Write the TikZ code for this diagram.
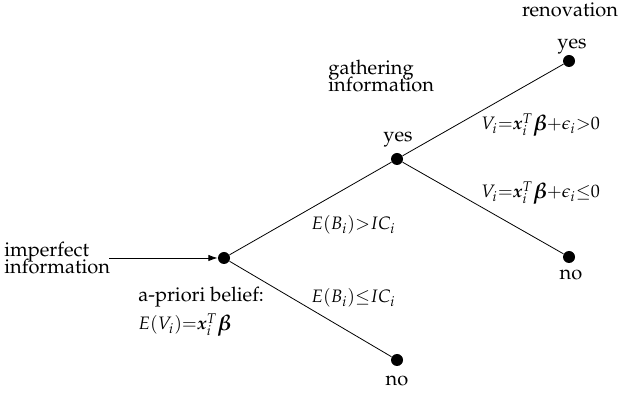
\documentclass[tikz,border=0pt]{standalone}
\usepackage[T1]{fontenc}
\usepackage{mathpazo}
\usepackage{amsmath,bm}
\usetikzlibrary{arrows.meta}

\newcommand{\bbeta}{\mathord{\raisebox{-0.15ex}{\scalebox{1.2}{$\bm{\beta}$}}}}

\tikzset{
	dot/.style={circle, fill=black, inner sep=0pt, minimum size=6pt},
	lbl/.style={inner sep=0pt, align=left, font=\fontsize{10}{8}\selectfont},
	cond/.style={inner sep=0pt, anchor=west, font=\small},
}

\begin{document}
\begin{tikzpicture}[x=0.5pt, y=-0.5pt, >={Latex[length=1.6mm, width=1.1mm]}]
	\useasboundingbox (0,0) rectangle (620,394);
	% decision nodes
	\node[dot] (root) at (224,258) {};
	\node[dot] (gath) at (397,159) {};
	\node[dot] (rno)  at (397,360) {};
	\node[dot] (ren)  at (569,61) {};
	\node[dot] (gno)  at (569,257) {};
	\coordinate (start) at (109,258);
	% branches
	\draw[->] (start) -- (root);
	\draw (root) -- (gath);
	\draw (root) -- (rno);
	\draw (gath) -- (ren);
	\draw (gath) -- (gno);
	% texts
	\node[lbl, anchor=west] (imp) at (4,258) {imperfect\\[-3pt]information};
	\node[lbl, anchor=west] (prior) at (138,297) {a-priori belief:};
	\node[cond] (prmath) at (138,325) {$E(V_i){=}\bm{x}_i^T\bbeta$};
	\node[lbl, anchor=west] (gtxt) at (328,76) {gathering\\[-3pt]information};
	\node[lbl] (rtxt) at (570,10) {renovation};
	\node[lbl] (ryes) at (572,46) {yes};
	\node[lbl] (gyes) at (398,139) {yes};
	\node[lbl] (gnotxt) at (571,275) {no};
	\node[lbl] (rnotxt) at (397,381) {no};
	\node[cond] (cgt) at (311,225) {$E(B_i){>}IC_i$};
	\node[cond] (cle) at (311,298) {$E(B_i){\leq}IC_i$};
	\node[cond] (vgt) at (481,125) {$V_i{=}\bm{x}_i^T\bbeta{+}\epsilon_i{>}0$};
	\node[cond] (vle) at (481,193) {$V_i{=}\bm{x}_i^T\bbeta{+}\epsilon_i{\leq}0$};
\end{tikzpicture}
\end{document}
